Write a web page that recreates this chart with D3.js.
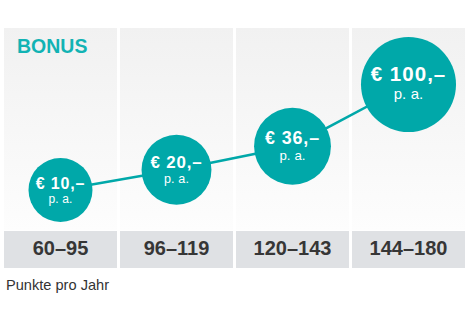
<!DOCTYPE html>
<html>
<head>
<meta charset="utf-8">
<script src="https://cdn.jsdelivr.net/npm/d3@7"></script>
<style>
  body { margin: 0; background: #fff; }
  text { font-family: "Liberation Sans", Arial, Helvetica, sans-serif; }
</style>
</head>
<body>
<div id="chart"></div>
<script>
// data
var ranges = ["60–95", "96–119", "120–143", "144–180"]; // Punkte pro Jahr
var bonus = [10, 20, 36, 100];                           // € p.a.
var title = "BONUS";
var unit = "p. a.";
var footnote = "Punkte pro Jahr";

var width = 470;
var height = 316;
var teal = "#00a8a9";

var svg = d3.select("#chart")
  .append("svg")
  .attr("width", width)
  .attr("height", height);

// background gradient for the columns
var grad = svg.append("defs").append("linearGradient")
  .attr("id", "colbg")
  .attr("x1", 0).attr("y1", 0).attr("x2", 0).attr("y2", 1);
grad.append("stop").attr("offset", "0%").attr("stop-color", "#f1f1f1");
grad.append("stop").attr("offset", "100%").attr("stop-color", "#fdfdfd");

var panelTop = 28;
var panelBottom = 230;
var barTop = 231;
var barBottom = 268;

// scales
var x = d3.scaleBand()
  .domain(ranges)
  .range([4, 465])
  .paddingInner(0.026);

var y = d3.scaleSqrt()
  .domain([10, 100])
  .range([190, 84.5]);

var r = d3.scaleSqrt()
  .domain([10, 100])
  .range([32, 47.5]);

// font sizes / offsets grow with the circle
var mainSize = d3.scaleLinear().domain([32, 47.5]).range([16, 20.5]);
var unitSize = d3.scaleLinear().domain([32, 47.5]).range([12, 15]);
var mainOff = d3.scaleLinear().domain([32, 47.5]).range([-1.5, -3.5]);
var unitOff = d3.scaleLinear().domain([32, 47.5]).range([13, 14.6]);

var rows = ranges.map(function(d, i) {
  return { range: d, value: bonus[i] };
});

// columns
svg.selectAll("rect.col")
  .data(rows)
  .enter()
  .append("rect")
  .attr("class", "col")
  .attr("x", function(d) { return x(d.range); })
  .attr("y", panelTop)
  .attr("width", x.bandwidth())
  .attr("height", panelBottom - panelTop)
  .attr("fill", "url(#colbg)");

// label bar
svg.selectAll("rect.bar")
  .data(rows)
  .enter()
  .append("rect")
  .attr("class", "bar")
  .attr("x", function(d) { return x(d.range); })
  .attr("y", barTop)
  .attr("width", x.bandwidth())
  .attr("height", barBottom - barTop)
  .attr("fill", "#dfe1e4");

svg.selectAll("text.range")
  .data(rows)
  .enter()
  .append("text")
  .attr("class", "range")
  .attr("x", function(d) { return x(d.range) + x.bandwidth() / 2; })
  .attr("y", 255)
  .attr("text-anchor", "middle")
  .attr("font-size", 20)
  .attr("font-weight", "bold")
  .attr("fill", "#363636")
  .text(function(d) { return d.range; });

// title
svg.append("text")
  .attr("x", 17)
  .attr("y", 52.5)
  .attr("font-size", 19.5)
  .attr("font-weight", "bold")
  .attr("fill", "#12b3b4")
  .text(title);

// connecting line
var line = d3.line()
  .x(function(d) { return x(d.range) + x.bandwidth() / 2; })
  .y(function(d) { return y(d.value); });

svg.append("path")
  .datum(rows)
  .attr("d", line)
  .attr("fill", "none")
  .attr("stroke", teal)
  .attr("stroke-width", 2.5);

// bubbles
var bubble = svg.selectAll("g.bubble")
  .data(rows)
  .enter()
  .append("g")
  .attr("class", "bubble")
  .attr("transform", function(d) {
    return "translate(" + (x(d.range) + x.bandwidth() / 2) + "," + y(d.value) + ")";
  });

bubble.append("circle")
  .attr("r", function(d) { return r(d.value); })
  .attr("fill", teal);

bubble.append("text")
  .attr("y", function(d) { return mainOff(r(d.value)); })
  .attr("text-anchor", "middle")
  .attr("font-weight", "bold")
  .attr("font-size", function(d) { return mainSize(r(d.value)); })
  .attr("letter-spacing", function(d) { return mainSize(r(d.value)) * 0.05; })
  .attr("fill", "#fff")
  .text(function(d) { return "€ " + d.value + ",–"; });

bubble.append("text")
  .attr("y", function(d) { return unitOff(r(d.value)); })
  .attr("text-anchor", "middle")
  .attr("font-size", function(d) { return unitSize(r(d.value)); })
  .attr("letter-spacing", 0.1)
  .attr("fill", "#fff")
  .text(unit);

// footnote
svg.append("text")
  .attr("x", 6)
  .attr("y", 290)
  .attr("font-size", 14.6)
  .attr("fill", "#333")
  .text(footnote);
</script>
</body>
</html>
